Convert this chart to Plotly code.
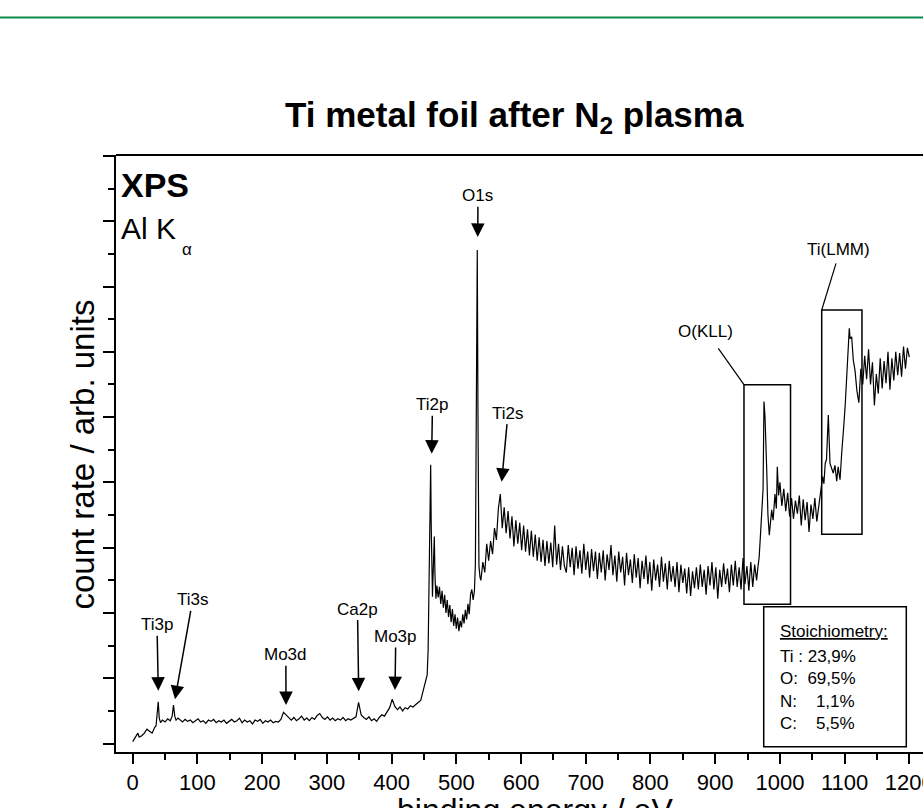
import plotly.graph_objects as go

FONT = "Liberation Sans, Arial, Helvetica, sans-serif"

# ---------------- data (binding energy in eV, count rate in arb. units) ----------------
# low-energy region with Ti3p / Ti3s
e_low = [0, 4, 8, 10, 14, 18, 22, 26, 30, 34, 36, 38, 39.5, 41, 43, 46, 50, 54, 58, 61, 63, 65, 67, 70]
c_low = [0.03, 0.09, 0.16, 0.10, 0.12, 0.16, 0.22, 0.19, 0.16, 0.25, 0.27, 0.48, 0.64, 0.39, 0.32, 0.36,
         0.33, 0.38, 0.35, 0.42, 0.59, 0.42, 0.36, 0.39]

# background 73..445 eV, 4 eV sampling (Mo3d, C1s, Ca2p, Mo3p)
e_bg = list(range(73, 446, 4))
c_bg = [0.36, 0.33, 0.37, 0.34, 0.36, 0.32, 0.35, 0.38, 0.33, 0.35,
        0.31, 0.36, 0.34, 0.37, 0.32, 0.35, 0.33, 0.36, 0.31, 0.34,
        0.37, 0.33, 0.35, 0.39, 0.32, 0.36, 0.33, 0.35, 0.30, 0.36,
        0.34, 0.37, 0.31, 0.35, 0.33, 0.36, 0.32, 0.34, 0.33, 0.37,
        0.48, 0.44, 0.40, 0.36, 0.40, 0.35, 0.38, 0.42, 0.36, 0.39,
        0.35, 0.40, 0.37, 0.43, 0.46, 0.40, 0.37, 0.41, 0.36, 0.39,
        0.35, 0.38, 0.36, 0.40, 0.35, 0.38, 0.36, 0.39, 0.41, 0.63,
        0.44, 0.40, 0.37, 0.41, 0.35, 0.38, 0.34, 0.40, 0.44, 0.42,
        0.49, 0.55, 0.68, 0.57, 0.52, 0.56, 0.50, 0.55, 0.53, 0.58,
        0.56, 0.60, 0.63, 0.66]

# Ti2p and O1s region
e_ti2p = [447, 449, 451, 453, 455, 456.5, 458, 459.5, 460.4, 461.3, 462.3, 463.2, 464.2, 465.2, 466, 467,
          468.5, 470, 472, 474, 476, 478, 480, 482, 484, 486, 488, 490, 492, 494, 496, 498, 500, 502, 504,
          506, 508, 510, 512, 514, 516, 518, 520, 522, 524, 526, 528, 529.5, 531, 532.4, 533.5, 535, 536.6]
c_ti2p = [0.74, 0.82, 0.90, 0.96, 1.05, 1.45, 2.6, 3.7, 4.27, 3.3, 2.5, 2.25, 2.6, 3.0, 3.17, 2.6,
          2.22, 2.42, 2.24, 2.40, 2.14, 2.34, 2.08, 2.28, 2.00, 2.20, 1.94, 2.12, 1.86, 2.06, 1.80, 1.98,
          1.76, 1.93, 1.72, 1.88, 1.78, 1.98, 1.84, 2.05, 1.90, 2.14, 1.98, 2.28, 2.36, 2.20, 2.34, 2.75,
          5.2, 7.56, 5.0, 2.72, 2.55]

# Ti2s and the inelastic background 538..964 eV, 3 eV sampling
e_band = list(range(538, 965, 3))
c_band = [2.50, 2.78, 2.62, 3.06, 2.80, 3.10, 2.90, 3.30, 3.12, 3.60,
          3.82, 3.30, 3.62, 3.22, 3.56, 3.14, 3.48, 3.02, 3.42, 3.06,
          3.38, 2.96, 3.34, 2.94, 3.28, 2.88, 3.26, 2.86, 3.20, 2.80,
          3.16, 2.78, 3.12, 2.72, 3.10, 2.76, 3.08, 2.70, 3.34, 2.74,
          3.06, 2.66, 3.02, 2.72, 2.62, 3.04, 2.70, 3.00, 2.58, 3.02,
          2.68, 2.96, 2.60, 3.06, 2.66, 2.94, 2.54, 2.98, 2.64, 2.94,
          2.52, 2.92, 2.62, 2.96, 2.50, 2.90, 2.66, 3.04, 2.58, 2.88,
          2.48, 2.94, 2.62, 2.86, 2.42, 2.92, 2.58, 2.82, 2.46, 2.90,
          2.54, 2.84, 2.38, 2.80, 2.52, 2.88, 2.44, 2.78, 2.34, 2.82,
          2.50, 2.74, 2.40, 2.86, 2.48, 2.76, 2.36, 2.80, 2.48, 2.72,
          2.40, 2.78, 2.32, 2.74, 2.46, 2.68, 2.30, 2.70, 2.26, 2.64,
          2.38, 2.70, 2.36, 2.74, 2.40, 2.66, 2.28, 2.72, 2.42, 2.78,
          2.36, 2.70, 2.22, 2.66, 2.40, 2.76, 2.44, 2.68, 2.32, 2.74,
          2.42, 2.80, 2.40, 2.70, 2.36, 2.84, 2.44, 2.72, 2.34, 2.78,
          2.40, 2.74, 2.50]

# O(KLL) Auger region
e_okll = [966, 968, 970, 972, 974, 975.4, 977, 979.6, 981.5, 983.6, 985.5, 987.3, 989.5, 992.4, 994.5,
          996, 998, 1000, 1003, 1006, 1009, 1012, 1015, 1018, 1021, 1024, 1027, 1030, 1033, 1036, 1039,
          1042, 1045, 1048, 1051, 1054, 1057, 1060, 1062]
c_okll = [2.70, 2.86, 3.2, 3.55, 3.9, 5.24, 5.0, 4.2, 3.5, 3.19, 3.45, 3.58, 3.42, 3.82, 3.60,
          4.24, 3.80, 4.00, 3.64, 3.90, 3.56, 3.84, 3.48, 3.76, 3.44, 3.72, 3.52, 3.80, 3.34, 3.74, 3.42,
          3.70, 3.24, 3.66, 3.44, 3.76, 3.40, 3.66, 3.78]

# Ti(LMM) Auger region
e_tilmm = [1064, 1066, 1068, 1070, 1072, 1074.8, 1077.4, 1080, 1082.5, 1085, 1087.8, 1090, 1092.9,
           1095.5, 1097, 1099, 1101, 1102.1, 1104.2, 1106, 1107.2, 1108.5, 1110.9, 1113.4]
c_tilmm = [3.95, 4.09, 3.98, 4.29, 4.35, 5.03, 4.29, 4.20, 4.14, 4.26, 4.02, 4.24, 4.04,
           4.45, 4.6, 4.91, 5.2, 5.41, 5.77, 6.15, 6.36, 6.2, 6.23, 5.87]

# high-energy tail 1116..1200 eV, 3 eV sampling
e_tail = list(range(1116, 1201, 3))
c_tail = [5.72, 5.40, 5.22, 5.74, 5.50, 5.94, 5.58, 6.04, 5.50, 5.84,
          5.18, 5.66, 5.36, 5.90, 5.44, 5.86, 5.52, 6.00, 5.42, 5.90,
          5.56, 6.00, 5.64, 5.98, 5.62, 6.08, 5.74, 6.06, 5.92]

energy = e_low + e_bg + e_ti2p + e_band + e_okll + e_tilmm + e_tail
counts = c_low + c_bg + c_ti2p + c_band + c_okll + c_tilmm + c_tail

# peak labels: name, arrow tip (eV, counts), label centre (eV, counts)
peak_names = ["Ti3p", "Ti3s", "Mo3d", "Ca2p", "Mo3p", "Ti2p", "O1s", "Ti2s"]
peak_tip_e = [39.6, 65.4, 236.9, 349.2, 405.3, 462.0, 533.1, 570.1]
peak_tip_c = [0.81, 0.68, 0.59, 0.80, 0.82, 4.44, 7.76, 4.01]
label_e = [37.5, 92.7, 236.6, 347.3, 406.5, 463.2, 533.5, 579.9]
label_c = [1.82, 2.20, 1.36, 2.06, 1.64, 5.19, 8.39, 5.06]

stoich_lines = ["<u>Stoichiometry:</u>", "Ti : 23,9%", "O:\u00a0\u00a069,5%",
                "N:\u00a0\u00a0\u00a0\u00a01,1%", "C:\u00a0\u00a0\u00a0\u00a05,5%"]
stoich_c = [1.71, 1.34, 1.00, 0.64, 0.30]

# ---------------- figure ----------------
fig = go.Figure()
fig.add_trace(go.Scatter(x=energy, y=counts, mode="lines",
                         line=dict(color="black", width=1.2), hoverinfo="skip"))

X_RANGE = [-25.8, 1221.1]
Y_RANGE = [-0.129, 9.014]

annotations = []
for name, te, tc, le, lc in zip(peak_names, peak_tip_e, peak_tip_c, label_e, label_c):
    annotations.append(dict(x=te, y=tc, xref="x", yref="y", ax=le, ay=lc, axref="x", ayref="y",
                            text=name, showarrow=True, arrowhead=2, arrowsize=1.8, arrowwidth=1.5,
                            arrowcolor="black", standoff=0, startstandoff=0,
                            font=dict(family=FONT, size=17, color="black")))

annotations += [
    dict(text="O(KLL)", x=885.5, y=6.31, xref="x", yref="y", showarrow=False,
         font=dict(family=FONT, size=17, color="black")),
    dict(text="Ti(LMM)", x=1091.3, y=7.57, xref="x", yref="y", showarrow=False,
         font=dict(family=FONT, size=17, color="black")),
]
for t, c in zip(stoich_lines, stoich_c):
    annotations.append(dict(text=t, x=997.5, y=c, xref="x", yref="y", xanchor="left", yanchor="middle",
                            showarrow=False, font=dict(family=FONT, size=17, color="black")))

annotations += [
    dict(text="<b>Ti metal foil after N<sub>2</sub> plasma</b>", x=0.4944, y=1.0637, xref="paper",
         yref="paper", xanchor="center", yanchor="middle", showarrow=False,
         font=dict(family=FONT, size=35, color="black")),
    dict(text="<b>XPS</b>", x=0.004, y=0.950, xref="paper", yref="paper", xanchor="left",
         yanchor="middle", showarrow=False, font=dict(family=FONT, size=34, color="black")),
    dict(text="Al K", x=0.004, y=0.8769, xref="paper", yref="paper", xanchor="left",
         yanchor="middle", showarrow=False, font=dict(family=FONT, size=30, color="black")),
    dict(text="\u03b1", x=0.088, y=0.8409, xref="paper", yref="paper", xanchor="center",
         yanchor="middle", showarrow=False, font=dict(family=FONT, size=17, color="black")),
    dict(text="count rate / arb. units", x=-0.0421, y=0.4983, xref="paper", yref="paper",
         textangle=-90, xanchor="center", yanchor="middle", showarrow=False,
         font=dict(family=FONT, size=33, color="black")),
    dict(text="binding energy / eV", x=0.5198, y=-0.0972, xref="paper", yref="paper",
         xanchor="center", yanchor="middle", showarrow=False,
         font=dict(family=FONT, size=32, color="black")),
]

shapes = [
    # green rule at the top of the page
    dict(type="line", xref="paper", yref="paper", x0=-0.1437, x1=1.0, y0=1.2303, y1=1.2303,
         line=dict(color="#0b8a4c", width=2)),
    # top frame line
    dict(type="line", xref="paper", yref="paper", x0=0, x1=1.0, y0=1, y1=1,
         line=dict(color="black", width=2)),
    # O(KLL) box + leader
    dict(type="rect", xref="x", yref="y", x0=944.5, x1=1016.4, y0=2.133, y1=5.497,
         line=dict(color="black", width=1.5)),
    dict(type="line", xref="x", yref="y", x0=904.8, y0=6.054, x1=944.5, y1=5.497,
         line=dict(color="black", width=1.2)),
    # Ti(LMM) box + leader
    dict(type="rect", xref="x", yref="y", x0=1064.6, x1=1126.8, y0=3.205, y1=6.640,
         line=dict(color="black", width=1.5)),
    dict(type="line", xref="x", yref="y", x0=1086.7, y0=7.355, x1=1064.6, y1=6.640,
         line=dict(color="black", width=1.2)),
    # stoichiometry box
    dict(type="rect", xref="x", yref="y", x0=975.0, x1=1195.3, y0=-0.047, y1=2.096,
         line=dict(color="black", width=1.5), fillcolor="white", layer="below"),
]

fig.update_layout(
    width=923, height=808,
    margin=dict(l=116, r=0, t=155, b=56, autoexpand=False),
    paper_bgcolor="white", plot_bgcolor="white",
    showlegend=False,
    font=dict(family=FONT, color="black"),
    annotations=annotations,
    shapes=shapes,
    xaxis=dict(range=X_RANGE, showline=True, linecolor="black", linewidth=2, mirror=False,
               automargin=False,
               ticks="outside", ticklen=10, tickwidth=2, tickcolor="black",
               tick0=0, dtick=100, showgrid=False, zeroline=False,
               ticklabeloverflow="allow",
               tickfont=dict(family=FONT, size=22, color="black"),
               minor=dict(dtick=50, tick0=0, ticks="outside", ticklen=6, tickwidth=2, tickcolor="black",
                          showgrid=False)),
    xaxis2=dict(range=X_RANGE, overlaying="x", side="top", anchor="y", showline=False,
                automargin=False,
                ticks="inside", ticklen=3, tickwidth=1.5, tickcolor="black", tick0=0, dtick=50,
                showticklabels=False, showgrid=False, zeroline=False),
    yaxis=dict(range=Y_RANGE, showline=True, linecolor="black", linewidth=2,
               automargin=False,
               ticks="outside", ticklen=11, tickwidth=2, tickcolor="black",
               tick0=0, dtick=1, showticklabels=False, showgrid=False, zeroline=False,
               minor=dict(dtick=0.5, tick0=0, ticks="outside", ticklen=6, tickwidth=2,
                          tickcolor="black", showgrid=False)),
)

fig.write_html("out.html")
